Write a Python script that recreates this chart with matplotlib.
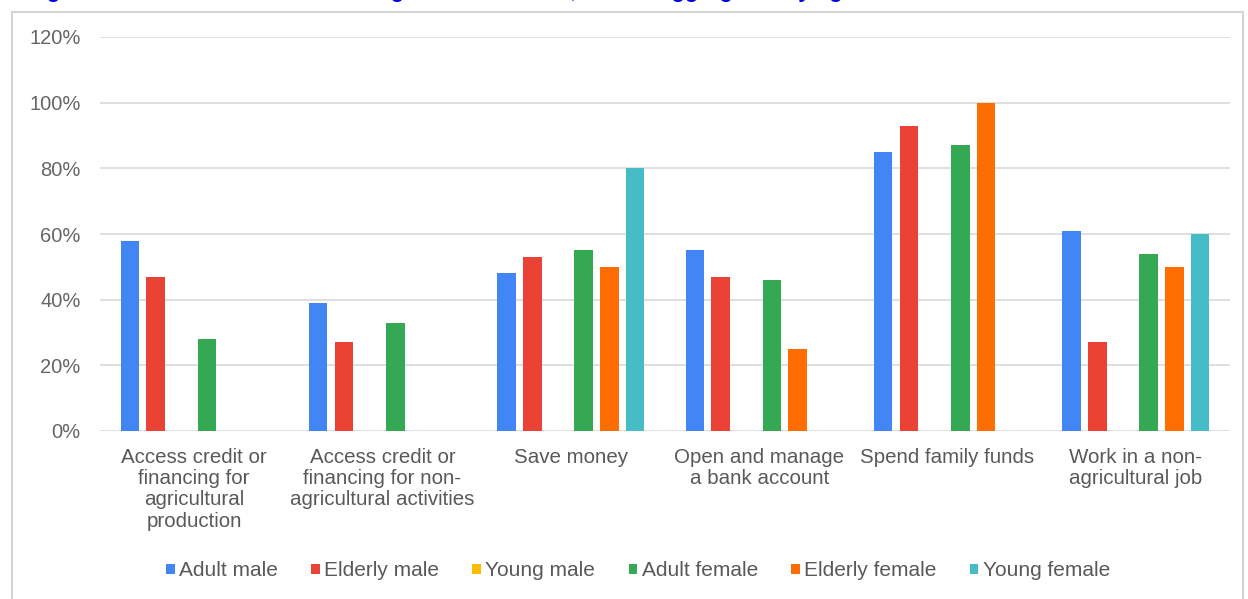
import numpy as np
import matplotlib
matplotlib.use("Agg")
import matplotlib.pyplot as plt
from matplotlib.patches import Rectangle, Patch
from matplotlib.ticker import FuncFormatter

plt.rcParams['font.family'] = ['Liberation Sans', 'DejaVu Sans']

# categories on the x axis
categories = [
    "Access credit or\nfinancing for\nagricultural\nproduction",
    "Access credit or\nfinancing for non-\nagricultural activities",
    "Save money",
    "Open and manage\na bank account",
    "Spend family funds",
    "Work in a non-\nagricultural job",
]

# share of respondents (%) per group
groups = ["Adult male", "Elderly male", "Young male", "Adult female", "Elderly female", "Young female"]
adult_male = [58, 39, 48, 55, 85, 61]
elderly_male = [47, 27, 53, 47, 93, 27]
young_male = [0, 0, 0, 0, 0, 0]
adult_female = [28, 33, 55, 46, 87, 54]
elderly_female = [0, 0, 50, 25, 100, 50]
young_female = [0, 0, 80, 0, 0, 60]

colors = ["#4285F4", "#EA4335", "#FBBC04", "#34A853", "#FF6D01", "#46BDC6"]
series = [adult_male, elderly_male, young_male, adult_female, elderly_female, young_female]

fig = plt.figure(figsize=(12.48, 5.99), dpi=100)
ax = fig.add_axes([100 / 1248, 1 - 431 / 599, 1130 / 1248, (431 - 37) / 599])

# outer frame of the chart box
fig.patches.append(Rectangle((12 / 1248, -0.05), (1243 - 12) / 1248, 1.05 - 12 / 599,
                             transform=fig.transFigure, fill=False,
                             edgecolor="#d4d4d4", linewidth=1.5))

# title, cut off at the top of the picture (only descenders show)
fig.text(27 / 1248, 1 + 3 / 599,
         "Figure 5: Household heads in charge of these tasks, sex-disaggregated by age",
         color="#0000e6", fontsize=16, fontweight="bold", va="baseline", ha="left")

x = np.arange(len(categories))
slot = 0.1365
bar_w = 0.098
for i, (vals, col) in enumerate(zip(series, colors)):
    ax.bar(x + (i - 2.5) * slot, vals, width=bar_w, color=col, zorder=3)

ax.set_xlim(-0.5, len(categories) - 0.5)
ax.set_ylim(0, 120)
ax.set_yticks(np.arange(0, 121, 20))
ax.yaxis.set_major_formatter(FuncFormatter(lambda v, p: f"{v:.0f}%"))
ax.set_xticks(x)
ax.set_xticklabels(categories, fontsize=14.8, color="#595959", linespacing=1.16)
ax.tick_params(axis="y", length=0, pad=14, labelsize=14.5, labelcolor="#666666")
ax.tick_params(axis="x", length=0, pad=12)

ax.grid(axis="y", color="#d9d9d9", linewidth=1.2, zorder=0)
for s in ax.spines.values():
    s.set_visible(False)

handles = [Patch(facecolor=c, edgecolor="none") for c in colors]
fig.legend(handles, groups, loc="center", bbox_to_anchor=(638 / 1248, 1 - 571 / 599),
           ncol=6, frameon=False, fontsize=15, handlelength=0.42, handleheight=0.42,
           handletextpad=0.2, columnspacing=1.6, labelcolor="#595959")

fig.savefig("out.png", dpi=100)
